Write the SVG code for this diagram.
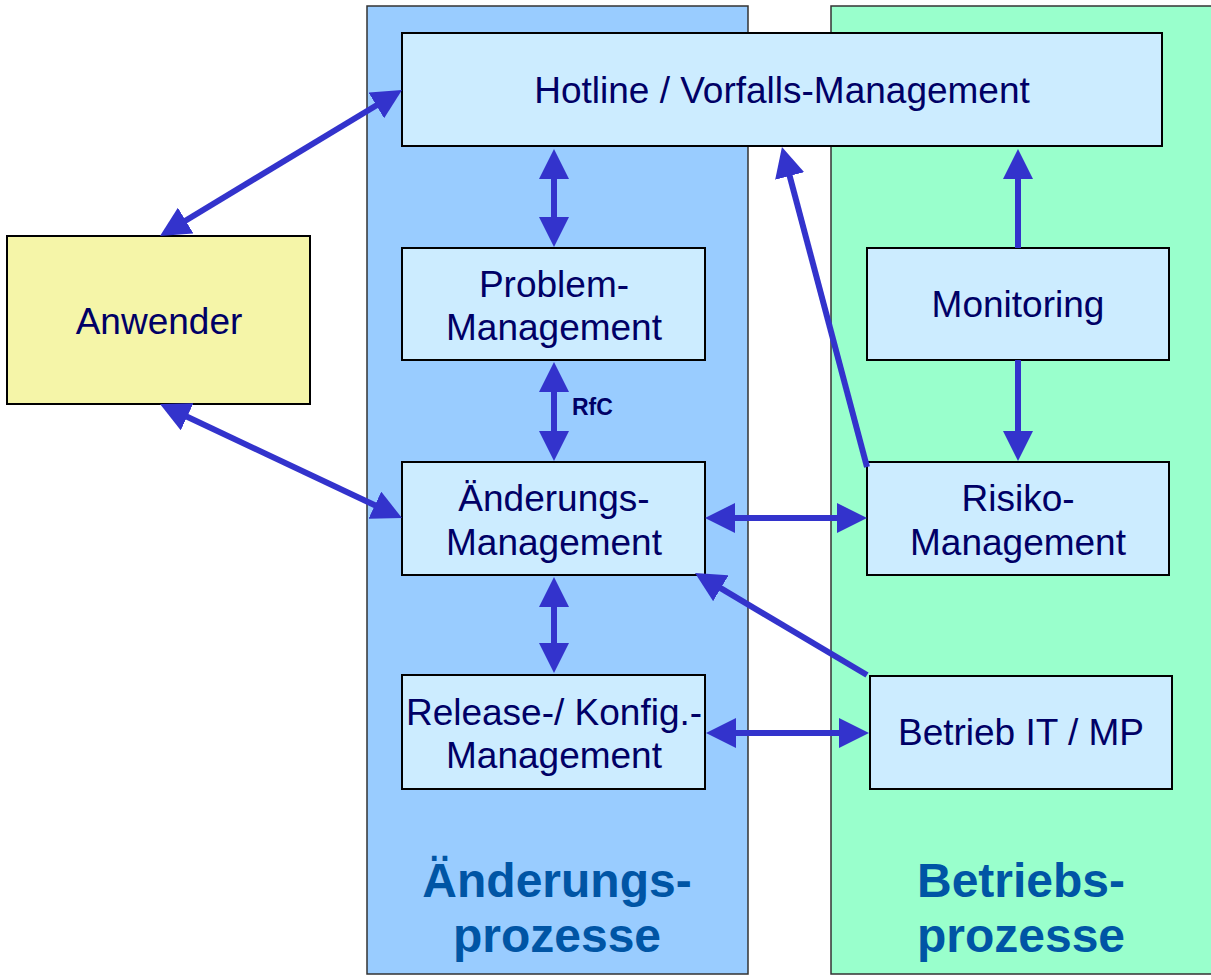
<svg xmlns="http://www.w3.org/2000/svg" width="1211" height="980" viewBox="0 0 1211 980">
  <style>
    .lane { stroke: #333333; stroke-width: 1.5; }
    .box { fill: #CCECFF; stroke: #000000; stroke-width: 2; }
    .user { fill: #F5F5A8; stroke: #000000; stroke-width: 2; }
    .lbl { font-family: "Liberation Sans", Arial, sans-serif; font-size: 37px; fill: #000066; text-anchor: middle; }
    .lane-lbl { font-family: "Liberation Sans", Arial, sans-serif; font-size: 48px; font-weight: bold; fill: #0055A5; text-anchor: middle; }
    .small { font-family: "Liberation Sans", Arial, sans-serif; font-size: 23px; font-weight: bold; fill: #000066; }
    .link { stroke: #3333CC; stroke-width: 6; fill: none; }
    .two { marker-start: url(#head); marker-end: url(#head); }
    .one { marker-end: url(#head); }
  </style>
  <defs>
    <marker id="head" viewBox="0 0 30 30" markerWidth="30" markerHeight="30" markerUnits="userSpaceOnUse" refX="10" refY="15" orient="auto-start-reverse">
      <path d="M0,0 L30,15 L0,30 z" fill="#3333CC"/>
    </marker>
  </defs>

  <rect width="1211" height="980" fill="#FFFFFF"/>

  <!-- swimlanes -->
  <g id="lane-aenderung">
    <rect class="lane" x="367" y="6" width="381" height="968" fill="#99CCFF"/>
    <text class="lane-lbl" x="557" y="897">Änderungs-</text>
    <text class="lane-lbl" x="557" y="952">prozesse</text>
  </g>
  <g id="lane-betrieb">
    <rect class="lane" x="831" y="6" width="390" height="968" fill="#99FFCC"/>
    <text class="lane-lbl" x="1021" y="897">Betriebs-</text>
    <text class="lane-lbl" x="1021" y="952">prozesse</text>
  </g>

  <!-- nodes -->
  <g id="hotline">
    <rect class="box" x="402" y="33" width="760" height="113"/>
    <text class="lbl" x="782" y="103">Hotline / Vorfalls-Management</text>
  </g>
  <g id="anwender">
    <rect class="user" x="7" y="236" width="303" height="168"/>
    <text class="lbl" x="159" y="334">Anwender</text>
  </g>
  <g id="problem">
    <rect class="box" x="402" y="248" width="303" height="112"/>
    <text class="lbl" x="554" y="297">Problem-</text>
    <text class="lbl" x="554" y="340">Management</text>
  </g>
  <g id="aenderung">
    <rect class="box" x="402" y="462" width="303" height="113"/>
    <text class="lbl" x="554" y="511">Änderungs-</text>
    <text class="lbl" x="554" y="555">Management</text>
  </g>
  <g id="release">
    <rect class="box" x="402" y="675" width="303" height="114"/>
    <text class="lbl" x="554" y="725">Release-/ Konfig.-</text>
    <text class="lbl" x="554" y="768">Management</text>
  </g>
  <g id="monitoring">
    <rect class="box" x="867" y="248" width="302" height="112"/>
    <text class="lbl" x="1018" y="317">Monitoring</text>
  </g>
  <g id="risiko">
    <rect class="box" x="867" y="462" width="302" height="113"/>
    <text class="lbl" x="1018" y="511">Risiko-</text>
    <text class="lbl" x="1018" y="555">Management</text>
  </g>
  <g id="betrieb">
    <rect class="box" x="870" y="676" width="302" height="113"/>
    <text class="lbl" x="1021" y="745">Betrieb IT / MP</text>
  </g>

  <!-- connectors -->
  <g id="connectors">
    <line class="link two" x1="177.1" y1="225.7" x2="384.9" y2="100.3"/>
    <line class="link two" x1="178.1" y1="412.5" x2="383.9" y2="509.5"/>
    <line class="link two" x1="554" y1="169" x2="554" y2="227"/>
    <line class="link two" x1="554" y1="382" x2="554" y2="441"/>
    <line class="link two" x1="554" y1="597" x2="554" y2="653"/>
    <line class="link two" x1="725" y1="518" x2="847" y2="518"/>
    <line class="link two" x1="726" y1="733" x2="849" y2="733"/>
    <line class="link one" x1="1018" y1="248" x2="1018" y2="169"/>
    <line class="link one" x1="1018" y1="360" x2="1018" y2="441"/>
    <line class="link one" x1="867" y1="467" x2="787.1" y2="166.3"/>
    <line class="link one" x1="867" y1="675" x2="712.2" y2="583.2"/>
    <text class="small" x="572" y="415">RfC</text>
  </g>
</svg>
